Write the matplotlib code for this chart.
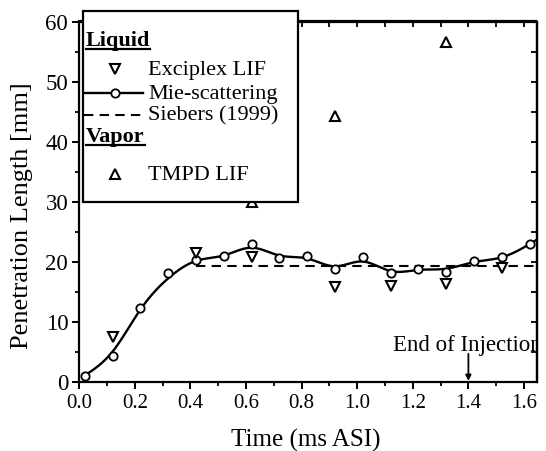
import numpy as np
import matplotlib
matplotlib.use('Agg')
import matplotlib.pyplot as plt
from matplotlib.lines import Line2D
from matplotlib.patches import Rectangle
from matplotlib.ticker import MultipleLocator

plt.rcParams['font.family'] = ['Liberation Serif', 'DejaVu Serif']

# ---- data ----
mie_t = [0.02, 0.12, 0.22, 0.32, 0.42, 0.52, 0.62, 0.72, 0.82, 0.92,
         1.02, 1.12, 1.22, 1.32, 1.42, 1.52, 1.62]
mie_v = [1.0, 4.3, 12.2, 18.1, 20.3, 20.9, 23.0, 20.6, 20.9, 18.7,
         20.8, 18.1, 18.7, 18.3, 20.1, 20.7, 22.9]

exc_t = [0.12, 0.42, 0.62, 0.92, 1.12, 1.32, 1.52]
exc_v = [7.4, 21.4, 20.8, 15.7, 15.9, 16.3, 19.0]

tmpd_t = [0.62, 0.92, 1.32]
tmpd_v = [30.0, 44.3, 56.6]

fit_t = [0.02, 0.12, 0.22, 0.32, 0.42, 0.52, 0.62, 0.72, 0.82, 0.92,
         1.02, 1.12, 1.22, 1.32, 1.42, 1.52, 1.62, 1.645]
fit_v = [1.0, 5.0, 12.0, 17.2, 20.1, 21.0, 22.3, 21.0, 20.5, 19.2,
         20.0, 18.4, 18.6, 18.8, 19.9, 20.7, 22.9, 23.6]

siebers_t = [0.42, 1.645]
siebers_v = [19.2, 19.2]

eoi_t = 1.4
xticks = [0.0, 0.2, 0.4, 0.6, 0.8, 1.0, 1.2, 1.4, 1.6]
yticks = [0, 10, 20, 30, 40, 50, 60]


def natural_spline(x, y, xs):
    x = np.asarray(x, float); y = np.asarray(y, float)
    n = len(x)
    h = np.diff(x)
    A = np.zeros((n, n)); b = np.zeros(n)
    A[0, 0] = 1; A[-1, -1] = 1
    for i in range(1, n - 1):
        A[i, i - 1] = h[i - 1]
        A[i, i] = 2 * (h[i - 1] + h[i])
        A[i, i + 1] = h[i]
        b[i] = 3 * ((y[i + 1] - y[i]) / h[i] - (y[i] - y[i - 1]) / h[i - 1])
    c = np.linalg.solve(A, b)
    bb = (y[1:] - y[:-1]) / h - h * (2 * c[:-1] + c[1:]) / 3
    d = (c[1:] - c[:-1]) / (3 * h)
    idx = np.clip(np.searchsorted(x, xs) - 1, 0, n - 2)
    dx = xs - x[idx]
    return y[idx] + bb[idx] * dx + c[idx] * dx ** 2 + d[idx] * dx ** 3


W, H = 546, 452
fig = plt.figure(figsize=(W / 100, H / 100), dpi=100)
L, R, T, B = 79.3, 536.5, 22.5, 382.5
ax = fig.add_axes([L / W, 1 - B / H, (R - L) / W, (B - T) / H])

ax.set_xlim(0, 1.645)
ax.set_ylim(0, 60)

xs = np.linspace(fit_t[0], fit_t[-1], 400)
ax.plot(xs, natural_spline(fit_t, fit_v, xs), color='black', lw=1.7, zorder=3)
ax.plot(mie_t, mie_v, ls='none', marker='o', ms=6, mfc='white', mec='black',
        mew=1.3, zorder=4)
ax.plot(exc_t, exc_v, ls='none', marker='v', ms=6.5, mfc='white', mec='black',
        mew=1.5, zorder=4)
ax.plot(tmpd_t, tmpd_v, ls='none', marker='^', ms=6.5, mfc='white', mec='black',
        mew=1.5, zorder=4)
ax.plot(siebers_t, siebers_v, color='black', lw=1.5, ls=(0, (4.5, 3)), zorder=2)

ax.text(1.129, 6.1, 'End of Injection', fontsize=16.5, ha='left', va='center',
        clip_on=True)
ax.annotate('', xy=(eoi_t, 0.1), xytext=(eoi_t, 4.6),
            arrowprops=dict(arrowstyle='-|>', color='black', lw=1.3,
                            mutation_scale=8, shrinkA=0, shrinkB=0))

for s in ax.spines.values():
    s.set_linewidth(1.6)

ax.set_xticks(xticks)
ax.set_xticklabels([f'{v:.1f}' for v in xticks])
ax.set_yticks(yticks)
ax.xaxis.set_minor_locator(MultipleLocator(0.1))
ax.yaxis.set_minor_locator(MultipleLocator(5))
ax.tick_params(which='major', direction='out', length=5, width=1.4, pad=3)
ax.tick_params(axis='x', which='major', labelsize=15)
ax.tick_params(axis='y', which='major', labelsize=16.5)
ax.tick_params(which='minor', direction='out', length=3, width=1.3)

secx = ax.secondary_xaxis('top')
secx.set_xticks(xticks)
secx.xaxis.set_minor_locator(MultipleLocator(0.1))
secx.tick_params(which='both', direction='in', length=4, width=1.3,
                 labeltop=False)
secy = ax.secondary_yaxis('right')
secy.set_yticks(yticks)
secy.yaxis.set_minor_locator(MultipleLocator(5))
secy.tick_params(which='both', direction='in', length=4, width=1.3,
                 labelright=False)
for s in secx.spines.values():
    s.set_linewidth(1.6)
for s in secy.spines.values():
    s.set_linewidth(1.6)

fig.text(306 / W, 1 - 440 / H, 'Time (ms ASI)', fontsize=18, ha='center',
         va='center')
fig.text(22 / W, 1 - 216 / H, 'Penetration Length [mm]', fontsize=19,
         ha='center', va='center', rotation=90)

# ---- legend box (figure pixel coords) ----
def fx(px):
    return px / W


def fy(py):
    return 1 - py / H


box = Rectangle((fx(83), fy(203)), fx(298) - fx(83), fy(12) - fy(203),
                transform=fig.transFigure, facecolor='white',
                edgecolor='black', lw=1.6, zorder=10)
fig.add_artist(box)

headers = [('Liquid', 41), ('Vapor', 137)]
hdr_texts = []
for label, py in headers:
    t = fig.text(fx(86), fy(py), label, fontsize=16, fontweight='bold',
                 ha='left', va='center', zorder=11)
    hdr_texts.append((t, py))

entries = [('Exciplex LIF', 70, 'marker', 'v'),
           ('Mie-scattering', 94, 'line', 'o'),
           ('Siebers (1999)', 116, 'dash', None),
           ('TMPD LIF', 175, 'marker', '^')]
for label, py, kind, mk in entries:
    fig.text(fx(148), fy(py), label, fontsize=16, ha='left', va='center',
             zorder=11)
    if kind == 'marker':
        fig.add_artist(Line2D([fx(115)], [fy(py)], ls='none', marker=mk,
                              ms=6.5, mfc='white', mec='black', mew=1.5,
                              transform=fig.transFigure, zorder=11))
    elif kind == 'line':
        fig.add_artist(Line2D([fx(84), fx(143)], [fy(py), fy(py)],
                              color='black', lw=1.7,
                              transform=fig.transFigure, zorder=11))
        fig.add_artist(Line2D([fx(115)], [fy(py)], ls='none', marker=mk,
                              ms=6, mfc='white', mec='black', mew=1.3,
                              transform=fig.transFigure, zorder=12))
    else:
        fig.add_artist(Line2D([fx(84), fx(143)], [fy(py), fy(py)],
                              color='black', lw=1.5, ls=(0, (4.5, 3)),
                              transform=fig.transFigure, zorder=11))

fig.canvas.draw()
r = fig.canvas.get_renderer()
for t, py in hdr_texts:
    bb = t.get_window_extent(r)
    x0, x1 = bb.x0 / W, bb.x1 / W
    fig.add_artist(Line2D([x0, x1], [fy(py + 9), fy(py + 9)], color='black',
                          lw=1.6, transform=fig.transFigure, zorder=11))

fig.savefig('out.png', dpi=100)
